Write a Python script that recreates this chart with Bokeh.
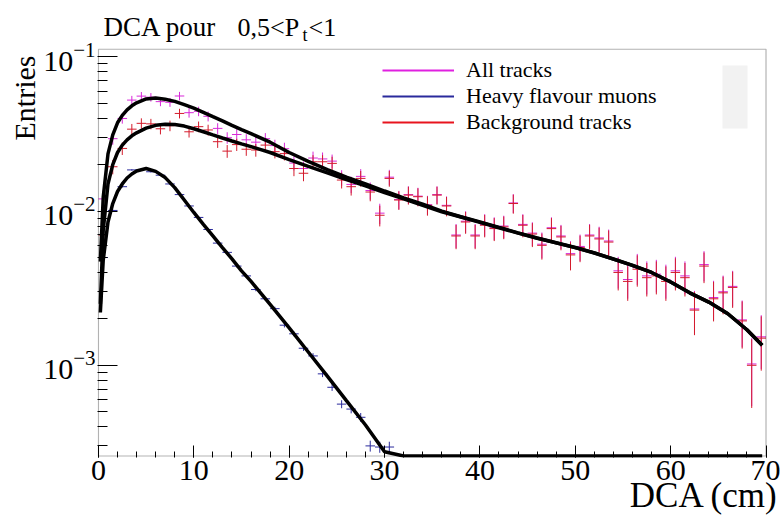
import numpy as np
from bokeh.plotting import figure
from bokeh.models import (Label, Legend, LegendItem, BoxAnnotation, FixedTicker,
                          SingleIntervalTicker, ColumnDataSource, Title)
from bokeh.embed import file_html
from bokeh.resources import INLINE

# ---------------- data ----------------
BIN_WIDTH = 1.0

# Background tracks, per 1 cm bin (0-1, 1-2, ... 69-70)
BG = [0.0070, 0.0194, 0.0255, 0.0340, 0.0371, 0.0368, 0.0342, 0.0358, 0.0430, 0.0327,
      0.0353, 0.0336, 0.0282, 0.0245, 0.0270, 0.0252, 0.0249, 0.0268, 0.0243, 0.0236,
      0.0189, 0.0176, 0.0209, 0.0209, 0.0204, 0.0159, 0.0144, 0.0163, 0.0133, 0.0094,
      0.0163, 0.0118, 0.0127, 0.0124, 0.0109, 0.0127, 0.0108, 0.0069, 0.0085, 0.0069,
      0.0081, 0.0077, 0.0079, 0.0112, 0.0081, 0.0071, 0.0060, 0.0077, 0.0068, 0.0052,
      0.0058, 0.0069, 0.0066, 0.0063, 0.0040, 0.0035, 0.0042, 0.0037, 0.0038, 0.0035,
      0.0040, 0.0037, 0.00228, 0.0044, 0.0027, 0.00295, 0.0032, 0.00194, 0.0010, 0.0015]

# Heavy flavour muons (bins 0..30; further bins are below the axis)
HF = [0.0050, 0.0101, 0.0144, 0.0185, 0.0186, 0.0180, 0.0171, 0.0150, 0.0128, 0.0108,
      0.0091, 0.0076, 0.0062, 0.0054, 0.0044, 0.0038, 0.0031, 0.0027, 0.00233, 0.00182,
      0.0016, 0.00129, 0.00115, 0.00088, 0.00072, 0.00056, 0.00052, 0.00046, 0.00030, 0.000295,
      0.000295]

# All tracks
ALL = [0.0120, 0.0295, 0.0399, 0.0525, 0.0557, 0.0548, 0.0513, 0.0508, 0.0558, 0.0435,
       0.0444, 0.0412, 0.0344, 0.0299, 0.0314, 0.0290, 0.0280, 0.0295, 0.0266, 0.0254,
       0.0205, 0.0189, 0.0221, 0.0218, 0.0211, 0.0165, 0.0149, 0.0168, 0.0136, 0.0097,
       0.0166, 0.0119, 0.0128, 0.0125, 0.0110, 0.0128, 0.0109, 0.0070, 0.0086, 0.0070,
       0.0082, 0.0078, 0.0080, 0.0113, 0.0082, 0.0072, 0.0061, 0.0078, 0.0069, 0.0053,
       0.0059, 0.0070, 0.0067, 0.0064, 0.0041, 0.0036, 0.0043, 0.0038, 0.0039, 0.0036,
       0.0041, 0.0038, 0.00232, 0.0045, 0.00275, 0.0030, 0.00325, 0.00197, 0.00102, 0.00153]

# total entries of each histogram (for the Poisson error bars)
ENTRIES_ALL = 4500
ENTRIES_BG = 4500
ENTRIES_HF = 500000

# fitted curves
FIT_X = [0.2, 0.5, 1.0, 1.5, 2.0, 2.5, 3.0, 3.5, 4.0, 5, 6, 7, 8, 9, 10, 11, 12, 13, 14, 15,
         16, 18, 20, 22, 24, 26, 28, 30, 32, 34, 36, 38, 40, 42, 44, 46, 48, 50, 52, 54,
         56, 58, 60, 62, 64, 66, 68, 69.6]
FIT_BG = [0.0025, 0.0075, 0.0150, 0.0200, 0.0240, 0.0268, 0.0290, 0.0308, 0.0322, 0.0345,
          0.0360, 0.0366, 0.0365, 0.0356, 0.0342, 0.0327, 0.0312, 0.0298, 0.0285, 0.0273,
          0.0262, 0.0240, 0.0216, 0.0195, 0.0177, 0.0160, 0.0146, 0.0132, 0.0120, 0.0109,
          0.0099, 0.00916, 0.00845, 0.0078, 0.0072, 0.00667, 0.00622, 0.0058, 0.00535, 0.00488,
          0.00445, 0.0040, 0.00347, 0.00295, 0.00257, 0.00216, 0.0017, 0.00135]
FIT_HF = [0.0022, 0.0048, 0.0085, 0.0112, 0.0134, 0.0150, 0.0164, 0.0174, 0.0182, 0.0189,
          0.0181, 0.0165, 0.0142, 0.0118, 0.0098, 0.0082, 0.0069, 0.0058, 0.0049, 0.0041,
          0.0035, 0.00248, 0.00175, 0.00122, 0.00085, 0.00059, 0.00041, 0.000275, 0.000195, 0.000138,
          9.8e-5, 6.9e-5, 4.9e-5, 3.5e-5, 2.5e-5, 1.8e-5, 1.3e-5, 9e-6, 6.4e-6, 4.5e-6,
          3.2e-6, 2.3e-6, 1.6e-6, 1.1e-6, 8e-7, 6e-7, 4e-7, 3e-7]
FIT_ALL = [0.0047, 0.0123, 0.0235, 0.0312, 0.0374, 0.0418, 0.0454, 0.0482, 0.0504, 0.0534,
           0.0541, 0.0531, 0.0515, 0.0490, 0.0465, 0.0437, 0.0410, 0.0385, 0.0360, 0.0338,
           0.0318, 0.0280, 0.0240, 0.0210, 0.0186, 0.0166, 0.0150, 0.0135, 0.0122, 0.0111,
           0.0100, 0.0092, 0.00851, 0.00784, 0.00723, 0.00669, 0.00624, 0.00581, 0.00536, 0.00489,
           0.00445, 0.0040, 0.00347, 0.00295, 0.00257, 0.00216, 0.0017, 0.00135]

# axis extents of the histogram frame
X_MIN, X_MAX = 0, 70
Y_MIN, Y_MAX = 2.58e-4, 0.1122
Y_MAJOR = [1e-3, 1e-2, 1e-1]
X_TICK_STEP = 10

LABELS = ["All tracks", "Heavy flavour muons", "Background tracks"]
TITLE_PARTS = ["DCA pour", "0,5<P", "t", "<1"]
X_TITLE = "DCA (cm)"
Y_TITLE = "Entries"

MAGENTA = "#e020e0"
BLUE = "#2a2a9c"
RED = "#e8141e"
MAGENTA_MARK = "#d828d8"
RED_MARK = "#d41c2c"
FONT = "Liberation Serif"

# ---------------- figure ----------------
# The plotting frame also spans the title strip above the box, so the title
# (with its subscript) can be drawn as labels; the ROOT box is drawn explicitly.
p = figure(width=780, height=517, x_range=(-0.1, 71.1), y_range=(2.523e-4, 0.2323),
           y_axis_type="log", output_backend="svg", toolbar_location=None,
           min_border_left=97, min_border_right=4, min_border_top=0, min_border_bottom=60)
p.title.text = ""
p.grid.visible = False
p.outline_line_color = None
p.background_fill_color = "white"
p.border_fill_color = "white"

# grey patch at the right of the legend
p.add_layout(BoxAnnotation(left=625, right=650, bottom=329, top=392,
                           left_units="screen", right_units="screen",
                           bottom_units="screen", top_units="screen",
                           fill_color="#f2f2f2", fill_alpha=1.0, line_alpha=0,
                           level="underlay"))


def draw_hist(values, entries, color):
    v = np.asarray(values, dtype=float)
    c = (np.arange(len(v)) + 0.5) * BIN_WIDTH
    e = np.sqrt(v * entries) / entries
    lo = np.maximum(v - e, 1e-9)
    hi = v + e
    src = ColumnDataSource(dict(c=c, v=v, x0=c - 0.5 * BIN_WIDTH, x1=c + 0.5 * BIN_WIDTH,
                                lo=lo, hi=hi))
    p.segment(x0="x0", x1="x1", y0="v", y1="v", source=src, line_color=color, line_width=1)
    p.segment(x0="c", x1="c", y0="lo", y1="hi", source=src, line_color=color, line_width=1)


draw_hist(ALL, ENTRIES_ALL, MAGENTA_MARK)
draw_hist(HF, ENTRIES_HF, BLUE)
draw_hist(BG, ENTRIES_BG, RED_MARK)

fx = np.asarray(FIT_X, dtype=float)
p.line(fx, FIT_ALL, line_color="black", line_width=3.5)
p.line(fx, FIT_BG, line_color="black", line_width=3.5)
# ROOT keeps the part of the fit below the axis on the frame's lower edge
p.line(fx, np.maximum(np.asarray(FIT_HF), Y_MIN), line_color="black", line_width=3.5)

# the histogram box
p.add_layout(BoxAnnotation(left=X_MIN, right=X_MAX, bottom=Y_MIN, top=Y_MAX,
                           fill_alpha=0, line_color="black", line_width=1.2,
                           level="overlay"))

# legend (renderers holding only NaN points: nothing drawn in the plot)
leg_renderers = [p.line(x=[np.nan, np.nan], y=[np.nan, np.nan], line_color=col, line_width=2)
                 for col in (MAGENTA, BLUE, RED)]
legend = Legend(items=[LegendItem(label=t, renderers=[r]) for t, r in zip(LABELS, leg_renderers)],
                location=(285, 322), orientation="vertical",
                padding=0, margin=0, spacing=-3,
                glyph_width=72, glyph_height=20, label_height=20, label_standoff=12,
                label_text_font=FONT, label_text_font_size="22px", label_text_color="black",
                label_text_line_height=0.85,
                border_line_alpha=0, background_fill_alpha=0)
p.add_layout(legend)

# axes
for ax in (p.xaxis[0], p.yaxis[0]):
    ax.axis_line_color = None
    ax.major_tick_line_color = "black"
    ax.minor_tick_line_color = "black"
    ax.major_tick_out = 0
    ax.minor_tick_out = 0
    ax.major_label_text_font = FONT
    ax.major_label_text_font_size = "30px"
    ax.major_label_text_color = "black"

p.xaxis.ticker = SingleIntervalTicker(interval=X_TICK_STEP, num_minor_ticks=5)
p.xaxis.major_tick_in = 12
p.xaxis.minor_tick_in = 6
p.xaxis.major_label_standoff = 3

minor = [m * d for d in [1e-4] + Y_MAJOR[:-1] for m in range(2, 10)]
minor = [t for t in minor if t > Y_MIN]
p.yaxis.ticker = FixedTicker(ticks=Y_MAJOR, minor_ticks=minor)
p.yaxis.major_tick_in = 20
p.yaxis.minor_tick_in = 10
p.yaxis.major_label_standoff = 2

# axis titles
p.add_layout(Title(text=Y_TITLE, align="right", offset=55, standoff=0,
                   text_font=FONT, text_font_size="30px", text_font_style="normal",
                   text_color="black"), "left")
p.add_layout(Title(text=X_TITLE, align="right", offset=-2, standoff=-14, vertical_align="top",
                   text_font=FONT, text_font_size="35px", text_font_style="normal",
                   text_color="black"), "below")

# plot title (drawn in the strip above the box)
for txt, sx, sy, size in zip(TITLE_PARTS, [6, 140, 205, 211], [430.5, 430.5, 423.0, 430.5],
                             ["27px", "26px", "18px", "26px"]):
    p.add_layout(Label(x=sx, y=sy, x_units="screen", y_units="screen", text=txt,
                       text_font=FONT, text_font_size=size, text_align="left",
                       text_baseline="alphabetic", text_color="black"))

open("out.html", "w").write(file_html(p, INLINE))
